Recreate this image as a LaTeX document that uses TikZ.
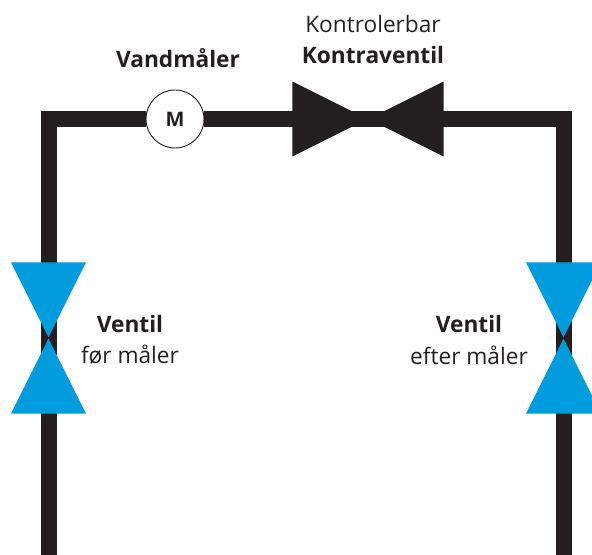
\documentclass[tikz,border=0pt]{standalone}
\usepackage{fontspec}
\setmainfont{Open Sans}
\usetikzlibrary{shapes.geometric,positioning}
\definecolor{pipeblack}{HTML}{231F20}
\definecolor{valveblue}{HTML}{009CDE}
\tikzset{pipe/.style={draw=pipeblack,line width=12pt}}
\tikzset{valve/.style={isosceles triangle,isosceles triangle apex angle=53.13,anchor=apex,inner sep=0pt,minimum height=56.25pt,minimum width=56.25pt}}
\tikzset{shutoff/.style={valve,fill=valveblue}}
\tikzset{check/.style={valve,fill=pipeblack}}
\tikzset{meter/.style={circle,draw=pipeblack,line width=0.7pt,fill=white,minimum size=43.5pt,inner sep=0pt,text=pipeblack,font=\fontsize{15}{18}\selectfont\bfseries}}
\tikzset{caption/.style={text=pipeblack,inner sep=0pt,font=\fontsize{17}{20}\selectfont}}

\begin{document}
\begin{tikzpicture}[x=0.75pt,y=-0.75pt,node distance=23.25pt]
    \useasboundingbox (0,0) rectangle (592,555);
    \clip (0,0) rectangle (592,555);

    \node[meter] (m1) at (175,119) {M};
    \coordinate (leftend) at (49,560);
    \coordinate (rightend) at (564,560);

    \path[pipe] (leftend) |- (m1);
    \path[pipe] (m1) -| (rightend);

    \node[check,shape border rotate=0] (c1) at (368,119) {};
    \node[check,shape border rotate=180] (c2) at (368,119) {};

    \node[shutoff,shape border rotate=-90] (v1) at (48.5,338) {};
    \node[shutoff,shape border rotate=90] (v2) at (48.5,338) {};
    \node[shutoff,shape border rotate=-90] (v3) at (563.5,338) {};
    \node[shutoff,shape border rotate=90] (v4) at (563.5,338) {};

    \node[caption] (t1) at (178,58) {\textbf{Vandmåler}};
    \node[caption] (t2) at (373,24) {Kontrolerbar};
    \node[caption,below of=t2] (t3) {\textbf{Kontraventil}};
    \node[caption] (t4) at (130,324) {\textbf{Ventil}};
    \node[caption,below of=t4] (t5) {før måler};
    \node[caption] (t6) at (469,324) {\textbf{Ventil}};
    \node[caption,below of=t6] (t7) {efter måler};
\end{tikzpicture}
\end{document}
